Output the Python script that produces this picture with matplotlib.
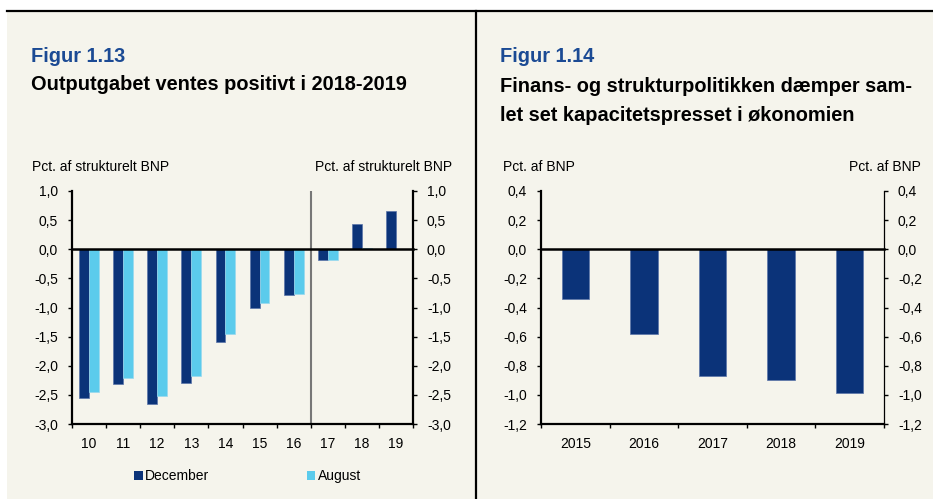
import matplotlib
matplotlib.use("Agg")
import matplotlib.pyplot as plt
from matplotlib.patches import Rectangle, Patch
from matplotlib.lines import Line2D
import numpy as np

plt.rcParams['font.family'] = ['Liberation Sans', 'DejaVu Sans']

# ---- data ----
years_left = ["10", "11", "12", "13", "14", "15", "16", "17", "18", "19"]
december = [-2.55, -2.32, -2.65, -2.30, -1.59, -1.01, -0.79, -0.19, 0.43, 0.65]
august = [-2.45, -2.21, -2.52, -2.18, -1.46, -0.92, -0.76, -0.18, 0.03, 0.0]
left_yticks = [1.0, 0.5, 0.0, -0.5, -1.0, -1.5, -2.0, -2.5, -3.0]

years_right = ["2015", "2016", "2017", "2018", "2019"]
policy_effect = [-0.344, -0.582, -0.873, -0.901, -0.988]
right_yticks = [0.4, 0.2, 0.0, -0.2, -0.4, -0.6, -0.8, -1.0, -1.2]

DARK = "#0B3379"
LIGHT = "#5BCBEC"
BG = "#F5F4EC"
TITLE_BLUE = "#1B4A94"

W, H = 933, 499
fig = plt.figure(figsize=(W / 100, H / 100), dpi=100, facecolor="white")

def fx(x):
    return x / W

def fy(y):
    return 1 - y / H

# background panel
fig.patches.append(Rectangle((fx(7), 0), 1 - fx(7), fy(11), transform=fig.transFigure,
                             facecolor=BG, edgecolor="none", zorder=-10))
fig.add_artist(Line2D([fx(7), 1], [fy(11), fy(11)], transform=fig.transFigure, color="black", lw=1.6))
fig.add_artist(Line2D([fx(476), fx(476)], [0, fy(11)], transform=fig.transFigure, color="black", lw=1.6))

def fmt(v, d):
    return f"{v:.{d}f}".replace(".", ",")

SMALL = 10

def style_axes(ax, yticks, dec, right_lw):
    ax.set_facecolor("none")
    ax.spines["top"].set_visible(False)
    ax.spines["left"].set_linewidth(1.6)
    ax.spines["bottom"].set_linewidth(1.6)
    ax.spines["right"].set_linewidth(right_lw)
    ax.set_yticks(yticks)
    ax.set_yticklabels([fmt(v, dec) for v in yticks])
    ax.tick_params(axis="y", which="major", direction="out", length=3, width=1,
                   left=True, right=True, labelleft=True, labelright=True,
                   labelsize=SMALL, pad=7, colors="black")
    ax.axhline(0, color="black", lw=1.8, zorder=3, clip_on=False)

# ---- left chart ----
axL = fig.add_axes([fx(72), fy(424), fx(413) - fx(72), fy(191) - fy(424)])
x = np.arange(len(years_left))
bw = 0.29
axL.bar(x - bw / 2, december, width=bw, color=DARK, edgecolor="#5A74A8", linewidth=0.5, zorder=2)
axL.bar(x + bw / 2, august, width=bw, color=LIGHT, edgecolor="#9AD9EE", linewidth=0.5, zorder=2)
axL.set_xlim(-0.5, len(years_left) - 0.5)
axL.set_ylim(-3.0, 1.0)
style_axes(axL, left_yticks, 1, 1.6)
axL.set_xticks(np.arange(-0.5, len(years_left), 1.0))
axL.set_xticklabels([])
axL.set_xticks(x, minor=True)
axL.set_xticklabels(years_left, minor=True)
axL.tick_params(axis="x", which="major", direction="out", length=3, width=1)
axL.tick_params(axis="x", which="minor", length=0, labelsize=SMALL, pad=9)
axL.axvline(6.5, color="#777777", lw=1.5, zorder=1)

# ---- right chart ----
axR = fig.add_axes([fx(541), fy(424), fx(884) - fx(541), fy(191) - fy(424)])
xr = np.arange(len(years_right))
axR.bar(xr, policy_effect, width=0.40, color=DARK, edgecolor="#5A74A8", linewidth=0.5, zorder=2)
axR.set_xlim(-0.5, len(years_right) - 0.5)
axR.set_ylim(-1.2, 0.4)
style_axes(axR, right_yticks, 1, 0.9)
axR.set_xticks(np.arange(-0.5, len(years_right), 1.0))
axR.set_xticklabels([])
axR.set_xticks(xr, minor=True)
axR.set_xticklabels(years_right, minor=True)
axR.tick_params(axis="x", which="major", direction="out", length=3, width=1)
axR.tick_params(axis="x", which="minor", length=0, labelsize=SMALL, pad=9)

# ---- titles ----
TS = 14.4
fig.text(fx(31), fy(61.5), "Figur 1.13", color=TITLE_BLUE, fontsize=TS, fontweight="bold", va="baseline")
fig.text(fx(31), fy(90.5), "Outputgabet ventes positivt i 2018-2019", color="black", fontsize=TS,
         fontweight="bold", va="baseline")
fig.text(fx(500), fy(61.5), "Figur 1.14", color=TITLE_BLUE, fontsize=TS, fontweight="bold", va="baseline")
fig.text(fx(500), fy(92), "Finans- og strukturpolitikken dæmper sam-", color="black", fontsize=TS,
         fontweight="bold", va="baseline")
fig.text(fx(500), fy(121), "let set kapacitetspresset i økonomien", color="black", fontsize=TS,
         fontweight="bold", va="baseline")

# axis unit labels
fig.text(fx(32), fy(171), "Pct. af strukturelt BNP", fontsize=SMALL, va="baseline", ha="left")
fig.text(fx(452), fy(171), "Pct. af strukturelt BNP", fontsize=SMALL, va="baseline", ha="right")
fig.text(fx(503), fy(171), "Pct. af BNP", fontsize=SMALL, va="baseline", ha="left")
fig.text(fx(921), fy(171), "Pct. af BNP", fontsize=SMALL, va="baseline", ha="right")

# legend
handles = [Patch(facecolor=DARK, edgecolor="none", label="December"),
           Patch(facecolor=LIGHT, edgecolor="none", label="August")]
fig.legend(handles=handles, loc="center left", bbox_to_anchor=(fx(130), fy(476)), ncol=2,
           frameon=False, fontsize=SMALL, handlelength=0.6, handleheight=0.6, handletextpad=0.2,
           columnspacing=7.0, borderaxespad=0, borderpad=0.3)

fig.savefig("out.png", dpi=100, facecolor="white")
